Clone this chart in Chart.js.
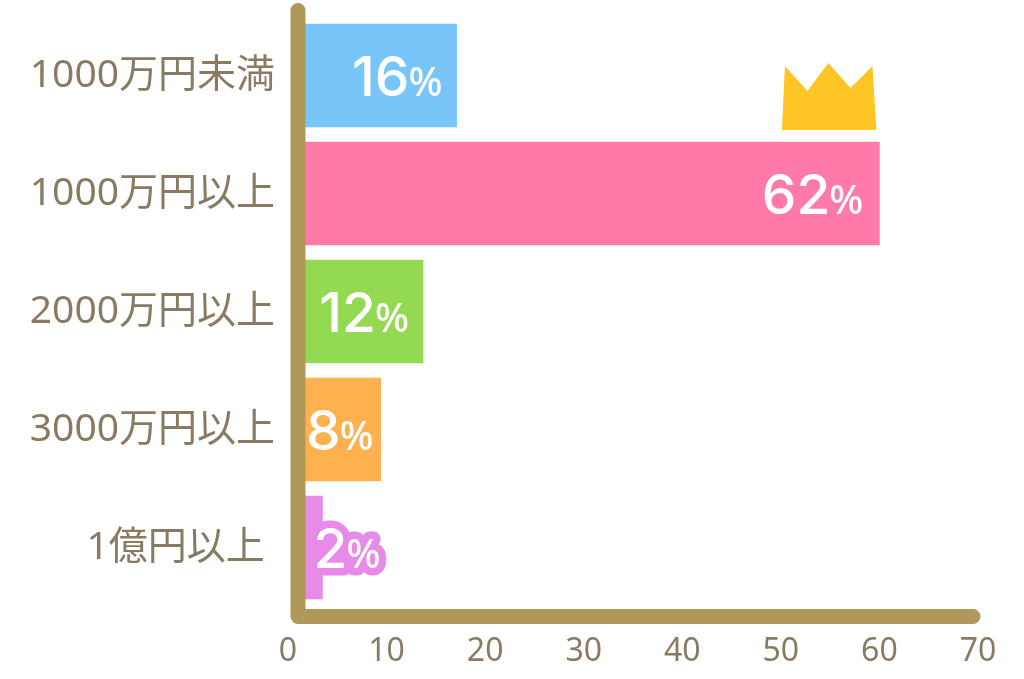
<!DOCTYPE html>
<html lang="ja">
<head>
<meta charset="utf-8">
<title>年収グラフ</title>
<script src="https://cdn.jsdelivr.net/npm/chart.js@4"></script>
<style>
    html, body { margin: 0; padding: 0; background: #fff; }
    #wrap { width: 1024px; height: 679px; }
</style>
</head>
<body>
<div id="wrap"><canvas id="myChart" width="1024" height="679"></canvas></div>
<script>
var categories = ['1000万円未満', '1000万円以上', '2000万円以上', '3000万円以上', '1億円以上 '];
// 棒の長さ(目盛りで読んだ値)と、棒に書かれている%は一致していない
var barValues = [17.1, 60, 13.7, 9.4, 3.5];
var shareLabels = ['16', '62', '12', '8', '2'];
var xTicks = [0, 10, 20, 30, 40, 50, 60, 70];
var barColors = ['#78c5f9', '#ff7aa9', '#93d952', '#ffb14f', '#e88ae8'];

var textColor = '#8b7a62';
var axisColor = '#b0985a';
var fontFamily = '"Noto Sans", "Noto Sans CJK JP", sans-serif';
var numberFont = '450 55px Inter, sans-serif';
var percentFont = '500 40px "Noto Sans", sans-serif';

// 軸は棒の上に太い線で描く
var axisLines = {
    id: 'axisLines',
    afterDatasetsDraw: function (chart) {
        var area = chart.chartArea;
        var c = chart.ctx;
        c.save();
        c.strokeStyle = axisColor;
        c.lineWidth = 15;
        c.lineCap = 'round';
        c.lineJoin = 'round';
        c.beginPath();
        c.moveTo(area.left + 10, area.top - 6);
        c.lineTo(area.left + 10, area.bottom + 10);
        c.lineTo(area.right - 5, area.bottom + 10);
        c.stroke();
        c.restore();
    }
};

// 棒の中の%ラベル
var shareText = {
    id: 'shareText',
    afterDraw: function (chart) {
        var c = chart.ctx;
        var bars = chart.getDatasetMeta(0).data;
        var insets = [14, 16, 14, 7, -58];
        c.save();
        c.textBaseline = 'alphabetic';
        c.textAlign = 'left';
        c.lineJoin = 'round';
        bars.forEach(function (bar, i) {
            var right = bar.x - insets[i];
            var y = bar.y + 20;
            c.font = percentFont;
            var pw = c.measureText('%').width;
            c.font = numberFont;
            var nw = c.measureText(shareLabels[i]).width;
            var parts = [
                { text: shareLabels[i], font: numberFont, x: right - pw - nw + 1 },
                { text: '%', font: percentFont, x: right - pw }
            ];
            // 一番下の棒だけラベルが棒からはみ出すので縁取りする
            if (i === bars.length - 1) {
                c.strokeStyle = barColors[i];
                c.lineWidth = 15;
                parts.forEach(function (p) {
                    c.font = p.font;
                    c.strokeText(p.text, p.x, y);
                });
            }
            c.fillStyle = '#fff';
            parts.forEach(function (p) {
                c.font = p.font;
                c.fillText(p.text, p.x, y);
            });
        });
        c.restore();
    }
};

// 一番長い棒の上の王冠
var crown = {
    id: 'crown',
    afterDraw: function (chart) {
        var bar = chart.getDatasetMeta(0).data[1];
        var c = chart.ctx;
        var left = bar.x;
        var base = bar.y - bar.height / 2;
        var outline = [[-97.5, -12], [-94.5, -76], [-72, -51], [-51, -79], [-29, -54], [-7, -76], [-3, -12]];
        c.save();
        c.fillStyle = '#fec524';
        c.beginPath();
        outline.forEach(function (p, i) {
            if (i === 0) {
                c.moveTo(left + p[0], base + p[1]);
            } else {
                c.lineTo(left + p[0], base + p[1]);
            }
        });
        c.closePath();
        c.fill();
        c.restore();
    }
};

var ctx = document.getElementById('myChart').getContext('2d');
var myChart = new Chart(ctx, {
    type: 'bar',
    data: {
        labels: categories,
        datasets: [{
            data: barValues,
            base: 1.5,
            backgroundColor: barColors,
            borderWidth: 0,
            barThickness: 103
        }]
    },
    options: {
        indexAxis: 'y',
        responsive: false,
        animation: false,
        layout: {
            autoPadding: false,
            padding: { top: 16.5, right: 46, bottom: 0, left: 0 }
        },
        plugins: {
            legend: { display: false },
            tooltip: { enabled: false }
        },
        scales: {
            x: {
                min: 0,
                max: 70,
                afterBuildTicks: function (axis) {
                    axis.ticks = xTicks.map(function (v) { return { value: v }; });
                },
                grid: { display: false },
                border: { display: false },
                ticks: {
                    color: textColor,
                    font: { family: fontFamily, size: 32 },
                    padding: 18,
                    maxRotation: 0,
                    autoSkip: false
                },
                afterFit: function (axis) {
                    axis.height = 72.5;
                    axis.paddingLeft = 0;
                    axis.paddingRight = 0;
                }
            },
            y: {
                grid: { display: false },
                border: { display: false },
                ticks: {
                    color: textColor,
                    font: { family: fontFamily, size: 39 },
                    padding: 5,
                    autoSkip: false
                },
                afterFit: function (axis) {
                    axis.width = 288;
                    // ラベル分の上下余白を消して棒の間隔を合わせる
                    axis.paddingTop = 0;
                    axis.paddingBottom = 0;
                }
            }
        }
    },
    plugins: [axisLines, shareText, crown]
});
</script>
</body>
</html>
